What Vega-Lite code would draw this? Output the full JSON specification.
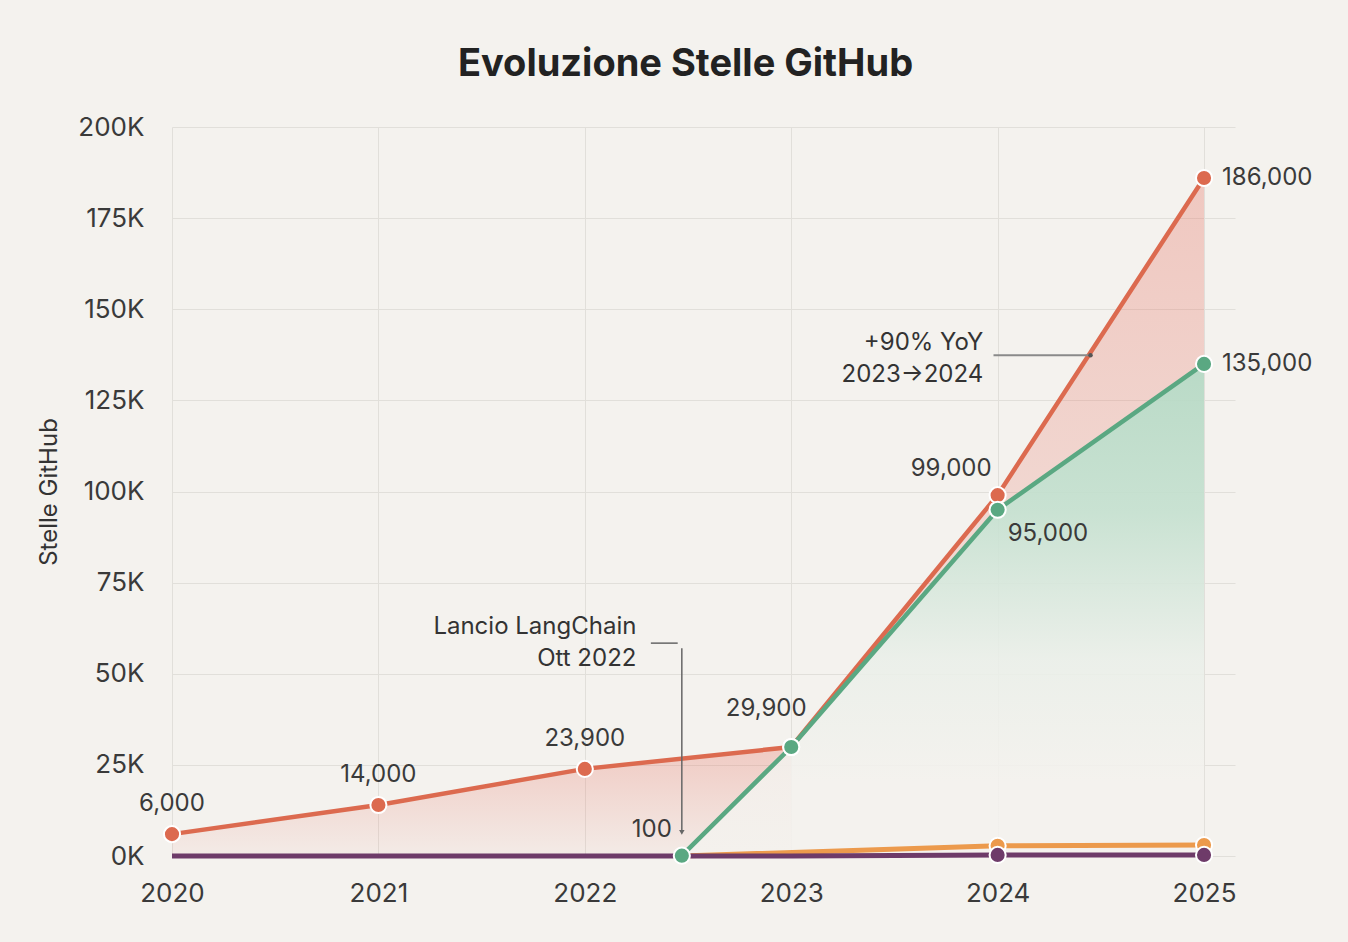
{
  "$schema": "https://vega.github.io/schema/vega-lite/v6.json",
  "width": 1063,
  "height": 729,
  "autosize": {"type": "none"},
  "padding": {"left": 172, "top": 127, "right": 113, "bottom": 86},
  "background": "#f4f2ee",
  "title": {
    "text": "Evoluzione Stelle GitHub",
    "fontSize": 38,
    "font": "Inter",
    "fontWeight": "bold",
    "color": "#222222",
    "anchor": "middle",
    "dx": -18,
    "offset": 30
  },
  "config": {
    "view": {"stroke": null},
    "font": "Inter",
    "axis": {
      "labelFont": "Inter",
      "labelColor": "#3a3a3a",
      "labelFontSize": 26,
      "titleFont": "Inter",
      "titleColor": "#333333",
      "gridColor": "#e1dfda",
      "gridWidth": 1,
      "tickSize": 0,
      "domain": false,
      "labelFlush": false
    }
  },
  "datasets": {
    "serie": [
      {"anno": 2020, "stelle": 6000, "serie": "A"},
      {"anno": 2021, "stelle": 14000, "serie": "A"},
      {"anno": 2022, "stelle": 23900, "serie": "A"},
      {"anno": 2023, "stelle": 29900, "serie": "A"},
      {"anno": 2024, "stelle": 99000, "serie": "A"},
      {"anno": 2025, "stelle": 186000, "serie": "A"},
      {"anno": 2022.47, "stelle": 100, "serie": "LangChain"},
      {"anno": 2023, "stelle": 29900, "serie": "LangChain"},
      {"anno": 2024, "stelle": 95000, "serie": "LangChain"},
      {"anno": 2025, "stelle": 135000, "serie": "LangChain"},
      {"anno": 2022.47, "stelle": 0, "serie": "C"},
      {"anno": 2024, "stelle": 2800, "serie": "C"},
      {"anno": 2025, "stelle": 3000, "serie": "C"},
      {"anno": 2020, "stelle": 0, "serie": "D"},
      {"anno": 2021, "stelle": 0, "serie": "D"},
      {"anno": 2022, "stelle": 0, "serie": "D"},
      {"anno": 2023, "stelle": 0, "serie": "D"},
      {"anno": 2024, "stelle": 300, "serie": "D"},
      {"anno": 2025, "stelle": 300, "serie": "D"}
    ]
  },
  "encoding": {
    "x": {
      "field": "anno",
      "type": "quantitative",
      "scale": {"domain": [2020, 2025.15], "nice": false, "zero": false},
      "axis": {"values": [2020, 2021, 2022, 2023, 2024, 2025], "format": "d", "title": null, "labelPadding": 24, "grid": true}
    },
    "y": {
      "field": "stelle",
      "type": "quantitative",
      "scale": {"domain": [0, 200000], "nice": false},
      "axis": {
        "values": [0, 25000, 50000, 75000, 100000, 125000, 150000, 175000, 200000],
        "labelExpr": "datum.value / 1000 + 'K'",
        "labelPadding": 28,
        "title": "Stelle GitHub",
        "titleFontSize": 24,
        "titleFontWeight": "normal",
        "titlePadding": 16,
        "grid": true
      }
    }
  },
  "layer": [
    {
      "data": {"name": "serie"},
      "transform": [{"filter": "datum.serie == 'A' && datum.anno <= 2023"}],
      "mark": {
        "type": "area",
        "color": {
          "gradient": "linear", "x1": 0, "y1": 0, "x2": 0, "y2": 1,
          "stops": [
            {"offset": 0, "color": "rgba(230,110,95,0.30)"},
            {"offset": 1, "color": "rgba(230,110,95,0.05)"}
          ]
        }
      }
    },
    {
      "data": {"name": "serie"},
      "transform": [
        {"filter": "(datum.serie == 'A' || datum.serie == 'LangChain') && datum.anno >= 2023"},
        {"pivot": "serie", "value": "stelle", "groupby": ["anno"]}
      ],
      "mark": {
        "type": "area",
        "color": {
          "gradient": "linear", "x1": 0, "y1": 0, "x2": 0, "y2": 1,
          "stops": [
            {"offset": 0, "color": "rgba(230,110,95,0.32)"},
            {"offset": 1, "color": "rgba(230,110,95,0.12)"}
          ]
        }
      },
      "encoding": {
        "y": {"field": "A", "type": "quantitative"},
        "y2": {"field": "LangChain"}
      }
    },
    {
      "data": {"name": "serie"},
      "transform": [{"filter": "datum.serie == 'LangChain'"}],
      "mark": {
        "type": "area",
        "color": {
          "gradient": "linear", "x1": 0, "y1": 0, "x2": 0, "y2": 1,
          "stops": [
            {"offset": 0, "color": "rgba(180,216,195,0.92)"},
            {"offset": 0.3, "color": "rgba(196,224,207,0.9)"},
            {"offset": 0.6, "color": "rgba(234,239,233,0.88)"},
            {"offset": 0.85, "color": "rgba(244,242,238,0.88)"},
            {"offset": 1, "color": "rgba(244,242,238,0.88)"}
          ]
        }
      }
    },
    {
      "data": {"name": "serie"},
      "transform": [{"filter": "datum.serie == 'D' || datum.serie == 'C'"}],
      "mark": {"type": "line", "strokeWidth": 5},
      "encoding": {
        "color": {"field": "serie", "type": "nominal", "legend": null,
          "scale": {"domain": ["A", "LangChain", "C", "D"], "range": ["#dc6a4f", "#5aa882", "#ec9a4c", "#6e3b69"]}},
        "order": {"field": "anno"},
        "detail": {"field": "serie"}
      }
    },
    {
      "data": {"name": "serie"},
      "transform": [{"filter": "datum.serie == 'A' || datum.serie == 'LangChain'"}],
      "mark": {"type": "line", "strokeWidth": 4.5},
      "encoding": {
        "color": {"field": "serie", "type": "nominal", "legend": null,
          "scale": {"domain": ["A", "LangChain", "C", "D"], "range": ["#dc6a4f", "#5aa882", "#ec9a4c", "#6e3b69"]}},
        "order": {"field": "anno"},
        "detail": {"field": "serie"}
      }
    },
    {
      "data": {"name": "serie"},
      "transform": [{"filter": "(datum.serie != 'D' && datum.serie != 'C') || datum.anno >= 2024"}],
      "mark": {"type": "point", "filled": true, "opacity": 1, "size": 260, "stroke": "#ffffff", "strokeWidth": 2},
      "encoding": {
        "color": {"field": "serie", "type": "nominal", "legend": null,
          "scale": {"domain": ["A", "LangChain", "C", "D"], "range": ["#dc6a4f", "#5aa882", "#ec9a4c", "#6e3b69"]}},
        "stroke": {"value": "#ffffff"},
        "order": {"field": "serie", "sort": "ascending"}
      }
    },
    {
      "data": {"name": "serie"},
      "transform": [{"filter": "datum.serie == 'A' && datum.anno <= 2022"}],
      "mark": {"type": "text", "fontSize": 24, "color": "#3a3a3a", "dy": -30, "align": "center"},
      "encoding": {"text": {"field": "stelle", "type": "quantitative", "format": ","}}
    },
    {
      "data": {"name": "serie"},
      "transform": [{"filter": "datum.serie == 'LangChain' && datum.anno == 2023"}],
      "mark": {"type": "text", "fontSize": 24, "color": "#3a3a3a", "dy": -38, "dx": -25, "align": "center"},
      "encoding": {"text": {"field": "stelle", "type": "quantitative", "format": ","}}
    },
    {
      "data": {"name": "serie"},
      "transform": [{"filter": "datum.serie == 'A' && datum.anno == 2024"}],
      "mark": {"type": "text", "fontSize": 24, "color": "#3a3a3a", "dy": -26, "dx": -6, "align": "right"},
      "encoding": {"text": {"field": "stelle", "type": "quantitative", "format": ","}}
    },
    {
      "data": {"name": "serie"},
      "transform": [{"filter": "datum.serie == 'LangChain' && datum.anno == 2024"}],
      "mark": {"type": "text", "fontSize": 24, "color": "#3a3a3a", "dy": 24, "dx": 10, "align": "left"},
      "encoding": {"text": {"field": "stelle", "type": "quantitative", "format": ","}}
    },
    {
      "data": {"name": "serie"},
      "transform": [{"filter": "(datum.serie == 'A' || datum.serie == 'LangChain') && datum.anno == 2025"}],
      "mark": {"type": "text", "fontSize": 24, "color": "#3a3a3a", "dx": 18, "align": "left"},
      "encoding": {"text": {"field": "stelle", "type": "quantitative", "format": ","}}
    },
    {
      "data": {"name": "serie"},
      "transform": [{"filter": "datum.serie == 'LangChain' && datum.anno < 2023"}],
      "mark": {"type": "text", "fontSize": 24, "color": "#3a3a3a", "dx": -10, "dy": -26, "align": "right"},
      "encoding": {"text": {"field": "stelle", "type": "quantitative", "format": ","}}
    },
    {
      "data": {"values": [{"anno": 2022.32, "anno2": 2022.45, "stelle": 58400}]},
      "mark": {"type": "rule", "color": "#666666", "strokeWidth": 1.5},
      "encoding": {"x2": {"field": "anno2"}}
    },
    {
      "data": {"values": [{"anno": 2022.47, "stelle": 57000, "stelle2": 7000}]},
      "mark": {"type": "rule", "color": "#666666", "strokeWidth": 1.5},
      "encoding": {"y2": {"field": "stelle2"}}
    },
    {
      "data": {"values": [{"anno": 2022.47, "stelle": 6500}]},
      "mark": {"type": "point", "shape": "triangle-down", "filled": true, "size": 30, "color": "#666666", "opacity": 1}
    },
    {
      "data": {"values": [{"anno": 2022.25, "stelle": 58400, "testo": "Lancio LangChain\nOtt 2022"}]},
      "mark": {"type": "text", "fontSize": 24, "color": "#333333", "align": "right", "baseline": "middle", "lineBreak": "\n", "lineHeight": 32, "dy": -16},
      "encoding": {"text": {"field": "testo"}}
    },
    {
      "data": {"values": [{"anno": 2023.98, "anno2": 2024.45, "stelle": 137400}]},
      "mark": {"type": "rule", "color": "#8a8a8a", "strokeWidth": 2},
      "encoding": {"x2": {"field": "anno2"}}
    },
    {
      "data": {"values": [{"anno": 2024.45, "stelle": 137400}]},
      "mark": {"type": "point", "filled": true, "size": 20, "color": "#555555", "opacity": 1}
    },
    {
      "data": {"values": [{"anno": 2023.93, "stelle": 136600, "testo": "+90% YoY\n2023→2024"}]},
      "mark": {"type": "text", "fontSize": 24, "color": "#333333", "align": "right", "baseline": "middle", "lineBreak": "\n", "lineHeight": 32, "dy": -15},
      "encoding": {"text": {"field": "testo"}}
    }
  ]
}
